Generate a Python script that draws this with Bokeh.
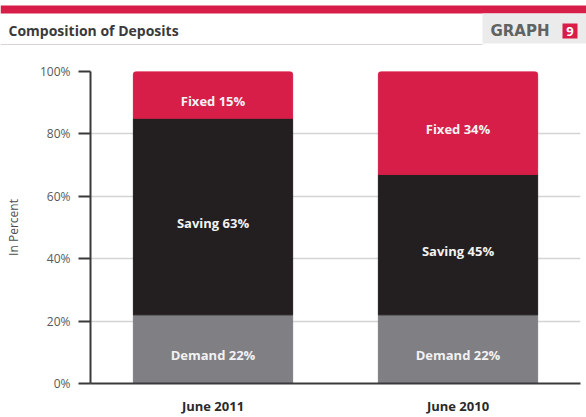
from bokeh.plotting import figure
from bokeh.models import ColumnDataSource, Range1d, FactorRange, FixedTicker, CustomJSTickFormatter
from bokeh.layouts import column
from bokeh.core.properties import value
from bokeh.embed import file_html
from bokeh.resources import INLINE

# ---- data ----
periods = ["June 2011", "June 2010"]
segments = ["Demand", "Saving", "Fixed"]
demand = [22, 22]
saving = [63, 45]
fixed = [15, 34]
y_ticks = [0, 20, 40, 60, 80, 100]
title_text = "Composition of Deposits"
graph_word = "GRAPH"
graph_num = "9"

seg_colors = ["#7f7f84", "#231f20", "#d71e48"]
FONT = "Open Sans"
W = 586
HEAD_H = 46
CHART_H = 371

# ---- header ----
h = figure(width=W, height=HEAD_H, x_range=Range1d(0, W), y_range=Range1d(0, HEAD_H),
           toolbar_location=None, output_backend="svg", min_border=0)
h.axis.visible = False
h.grid.visible = False
h.outline_line_color = None
h.background_fill_color = "white"
h.border_fill_color = "white"
# red band
h.quad(left=[0], right=[W], bottom=[33], top=[41], fill_color="#d71e48", line_color=None)
# gray graph box
h.quad(left=[482], right=[W], bottom=[3], top=[33], fill_color="#ebebeb", line_color=None)
# underline
h.line(x=[0, 482], y=[2, 2], line_color="#dcd3d6", line_width=1)
h.text(x=[8], y=[16], text=[title_text], text_font=value(FONT), text_font_style="bold",
       text_font_size="14px", text_color="#3a3a3c", text_baseline="middle", text_align="left")
h.text(x=[490], y=[16], text=[graph_word], text_font=value("DejaVu Sans"), text_font_style="bold",
       text_font_size="15px", text_color="#616264", text_baseline="middle", text_align="left")
h.quad(left=[562], right=[577], bottom=[8], top=[23], fill_color="#d71e48", line_color=None)
h.text(x=[569.5], y=[15.5], text=[graph_num], text_font=value(FONT), text_font_style="bold",
       text_font_size="13px", text_color="white", text_baseline="middle", text_align="center")

# ---- chart ----
src = ColumnDataSource(dict(period=periods, Demand=demand, Saving=saving, Fixed=fixed))

p = figure(width=W, height=CHART_H, x_range=FactorRange(*periods, range_padding=0),
           y_range=Range1d(0, 100), toolbar_location=None, output_backend="svg",
           min_border_left=90, min_border_right=6, min_border_top=25, min_border_bottom=34)
p.outline_line_color = None
p.background_fill_color = "white"
p.border_fill_color = "white"

for fig in (h, p):
    if hasattr(fig, "frame_align"):
        fig.frame_align = False

rs = p.vbar_stack(segments, x="period", width=0.65, color=seg_colors, line_color=seg_colors,
                  source=src)
try:
    rs[-1].glyph.border_radius = (3, 3, 0, 0)
except Exception:
    pass

# labels at segment centres
lx, ly, lt = [], [], []
for i, per in enumerate(periods):
    bottom = 0
    for seg, vals in zip(segments, [demand, saving, fixed]):
        v = vals[i]
        top = min(bottom + v, 100)
        lx.append(per)
        ly.append((bottom + top) / 2)
        lt.append(f"{seg} {v}%")
        bottom += v
p.text(x=lx, y=ly, text=lt, text_font=value(FONT), text_font_style="bold",
       text_font_size="13px", text_color="#f2f2f2", text_align="center", text_baseline="middle",
       y_offset=6)

p.xgrid.visible = False
p.ygrid.ticker = FixedTicker(ticks=y_ticks)
p.ygrid.grid_line_color = "#d4d4d4"
p.ygrid.grid_line_width = 1.5

p.yaxis.ticker = FixedTicker(ticks=y_ticks)
p.yaxis.formatter = CustomJSTickFormatter(code="return tick + '%';")
p.yaxis.axis_line_color = "#3a3a3c"
p.yaxis.axis_line_width = 2
p.yaxis.major_tick_line_color = "#3a3a3c"
p.yaxis.major_tick_line_width = 2
p.yaxis.major_tick_out = 12
p.yaxis.major_tick_in = 0
p.yaxis.minor_tick_line_color = None
p.yaxis.major_label_standoff = 8
p.yaxis.major_label_text_font = FONT
p.yaxis.major_label_text_font_size = "12px"
p.yaxis.major_label_text_color = "#58595b"
p.yaxis.axis_label = "In Percent"
p.yaxis.axis_label_text_font = FONT
p.yaxis.axis_label_text_font_style = "normal"
p.yaxis.axis_label_text_font_size = "12px"
p.yaxis.axis_label_text_color = "#4d4d4f"
p.yaxis.axis_label_standoff = 15

p.xaxis.axis_line_color = "#3a3a3c"
p.xaxis.axis_line_width = 2
p.xaxis.major_tick_line_color = None
p.xaxis.major_tick_out = 0
p.xaxis.major_tick_in = 0
p.xaxis.minor_tick_line_color = None
p.xaxis.minor_tick_out = 0
p.xaxis.major_label_standoff = 13
p.xaxis.major_label_text_font = FONT
p.xaxis.major_label_text_font_size = "13px"
p.xaxis.major_label_text_font_style = "bold"
p.xaxis.major_label_text_color = "#2a2a2a"

layout = column(h, p, spacing=0)
open("out.html", "w").write(file_html(layout, INLINE))
